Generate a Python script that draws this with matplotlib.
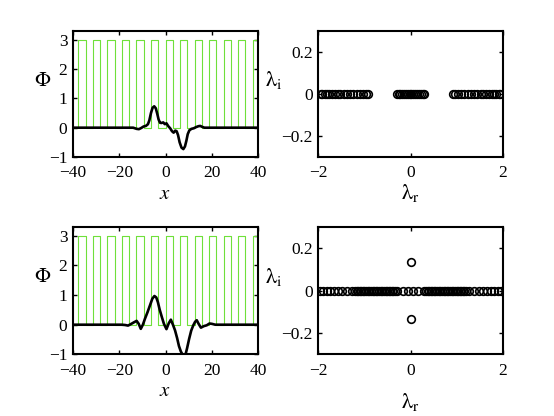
import matplotlib
matplotlib.use("Agg")
import matplotlib.pyplot as plt

plt.rcParams['font.family'] = ['Liberation Serif', 'DejaVu Serif']
plt.rcParams['mathtext.fontset'] = 'stix'

# periodic potential: start of each high cell, cell width, height
pot_starts = [-37.7, -31.4, -25.1, -18.8, -12.6, -6.3, 0.0, 6.3, 12.6, 18.8, 25.1, 31.4, 37.7]
pot_width = 3.14
pot_height = 3.0

# top profile
top_x = [-40, -20, -14, -12.5, -11.5, -10.5, -9.5, -8.5, -7.6, -7.0, -6.3, -5.6, -4.9, -4.2,
         -3.6, -3.0, -2.4, -1.8, -1.0, -0.3, 0.4, 1.2, 2.0, 2.8, 3.5, 4.2, 4.8, 5.4, 6.1,
         6.9, 7.7, 8.4, 9.0, 9.6, 10.3, 11.2, 12.2, 13.2, 14.2, 15.0, 15.8, 16.8, 20, 40]
top_y = [0, 0, 0, -0.04, -0.05, -0.01, 0.04, 0.06, 0.12, 0.25, 0.5, 0.68, 0.73, 0.66,
         0.48, 0.28, 0.17, 0.16, 0.18, 0.12, 0.15, 0.05, -0.02, -0.12, -0.17, -0.1, -0.12, -0.25, -0.5,
         -0.68, -0.73, -0.64, -0.45, -0.22, -0.09, -0.04, -0.02, 0.02, 0.05, 0.06, 0.03, 0.0, 0, 0]

# bottom profile
bot_x = [-40, -19, -17.5, -16.2, -15.0, -13.9, -12.5, -11.6, -10.7, -9.8, -8.9, -7.8, -6.7, -5.7,
         -4.8, -4.0, -3.3, -2.5, -1.6, -0.7, 0.4, 1.4, 2.3, 3.2, 4.1, 5.0, 5.8, 6.6, 7.4, 8.0,
         8.6, 9.3, 10.2, 11.1, 12.0, 12.8, 13.5, 14.3, 15.3, 16.5, 17.8, 19.0, 20.0, 21.5, 40]
bot_y = [0, 0, -0.01, -0.03, 0.02, 0.07, 0.13, 0.03, -0.14, 0.0, 0.2, 0.42, 0.66, 0.88,
         0.97, 0.92, 0.76, 0.5, 0.26, 0.03, -0.15, 0.05, 0.17, 0.0, -0.19, -0.45, -0.72, -0.9, -1.02, -1.05,
         -1.02, -0.8, -0.48, -0.2, -0.02, 0.1, 0.15, 0.03, -0.1, -0.05, -0.02, 0.04, 0.03, 0.0, 0]

# top spectrum (all real)
top_re = [-1.95, -1.91, -1.86, -1.81, -1.76, -1.70, -1.64, -1.58, -1.52, -1.45, -1.38, -1.31,
          -1.24, -1.16, -1.09, -1.03, -0.97, -0.92,
          -0.29, -0.26, -0.22, -0.18, -0.14, -0.10, -0.06, -0.02,
          0.02, 0.06, 0.10, 0.14, 0.18, 0.22, 0.26, 0.29,
          0.92, 0.97, 1.03, 1.09, 1.16, 1.24, 1.31, 1.38, 1.45, 1.52, 1.58, 1.64,
          1.70, 1.76, 1.81, 1.86, 1.91, 1.95]
top_im = [0.0] * len(top_re)

# bottom spectrum
bot_re = [-1.97, -1.90, -1.82, -1.74, -1.66, -1.58, -1.49, -1.38, -1.27,
          -1.21, -1.17, -1.14, -1.10, -1.07, -1.03, -1.00, -0.96, -0.93, -0.89, -0.86, -0.82,
          -0.79, -0.75, -0.72, -0.68, -0.65, -0.61, -0.58, -0.54, -0.51, -0.47, -0.44, -0.40,
          -0.37, -0.33, -0.30,
          -0.16, -0.05, 0.05, 0.16,
          0.30, 0.33, 0.37, 0.40, 0.44, 0.47, 0.51, 0.54, 0.58, 0.61, 0.65, 0.68, 0.72, 0.75,
          0.79, 0.82, 0.86, 0.89, 0.93, 0.96, 1.00, 1.03, 1.07, 1.10, 1.14, 1.17, 1.21,
          1.27, 1.38, 1.49, 1.58, 1.66, 1.74, 1.82, 1.90, 1.97,
          0.0, 0.0]
bot_im = [0.0] * (len(bot_re) - 2) + [0.135, -0.135]

green = '#6fe03a'
tick_fs = 12.5
lab_fs = 15


def potential_line(starts, width, height, x0, x1):
    px = [x0]
    py = [0]
    for s in starts:
        px += [s, s, s + width, s + width]
        py += [0, height, height, 0]
    px.append(x1)
    py.append(0)
    return px, py


def style(ax):
    ax.tick_params(direction='in', top=True, right=True, length=3, width=1,
                   labelsize=tick_fs)
    ax.tick_params(axis='x', pad=6)
    ax.tick_params(axis='y', pad=4)
    for sp in ax.spines.values():
        sp.set_linewidth(1.5)


fig = plt.figure(figsize=(5.54, 4.16), dpi=100)

rows = [(0.6226, 0.303, top_x, top_y, top_re, top_im, -0.20),
        (0.1483, 0.306, bot_x, bot_y, bot_re, bot_im, -0.29)]

for bottom, height, xs, ys, re, im, lr_y in rows:
    ax = fig.add_axes([0.1318, bottom, 0.334, height])
    gx, gy = potential_line(pot_starts, pot_width, pot_height, -40, 42)
    ax.plot(gx, gy, color=green, lw=0.8)
    ax.plot(xs, ys, color='k', lw=1.9)
    ax.set_xlim(-40, 40)
    ax.set_ylim(-1, 3.3)
    ax.set_xticks([-40, -20, 0, 20, 40])
    ax.set_yticks([-1, 0, 1, 2, 3])
    ax.set_xlabel(r'$x$', fontsize=lab_fs)
    ax.xaxis.set_label_coords(0.497, -0.22)
    ax.set_ylabel(r'$\Phi$', fontsize=lab_fs, rotation=0, ha='center', va='center')
    ax.yaxis.set_label_coords(-0.162, 0.60)
    style(ax)

    ax2 = fig.add_axes([0.5745, bottom, 0.333, height])
    ax2.plot(re, im, 'o', mfc='none', mec='k', ms=5.5, mew=1.2)
    ax2.set_xlim(-2, 2)
    ax2.set_ylim(-0.3, 0.3)
    ax2.set_xticks([-2, 0, 2])
    ax2.set_yticks([-0.2, 0, 0.2])
    ax2.set_yticklabels(['\u22120.2', '0', '0.2'])
    ax2.set_xlabel(r'$\mathrm{λ}_{\mathrm{r}}$', fontsize=lab_fs + 1)
    ax2.xaxis.set_label_coords(0.50, lr_y)
    ax2.set_ylabel(r'$\mathrm{λ}_{\mathrm{i}}$', fontsize=lab_fs + 1, rotation=0, ha='center', va='center')
    ax2.yaxis.set_label_coords(-0.24, 0.61)
    style(ax2)

fig.savefig('out.png', dpi=100)
